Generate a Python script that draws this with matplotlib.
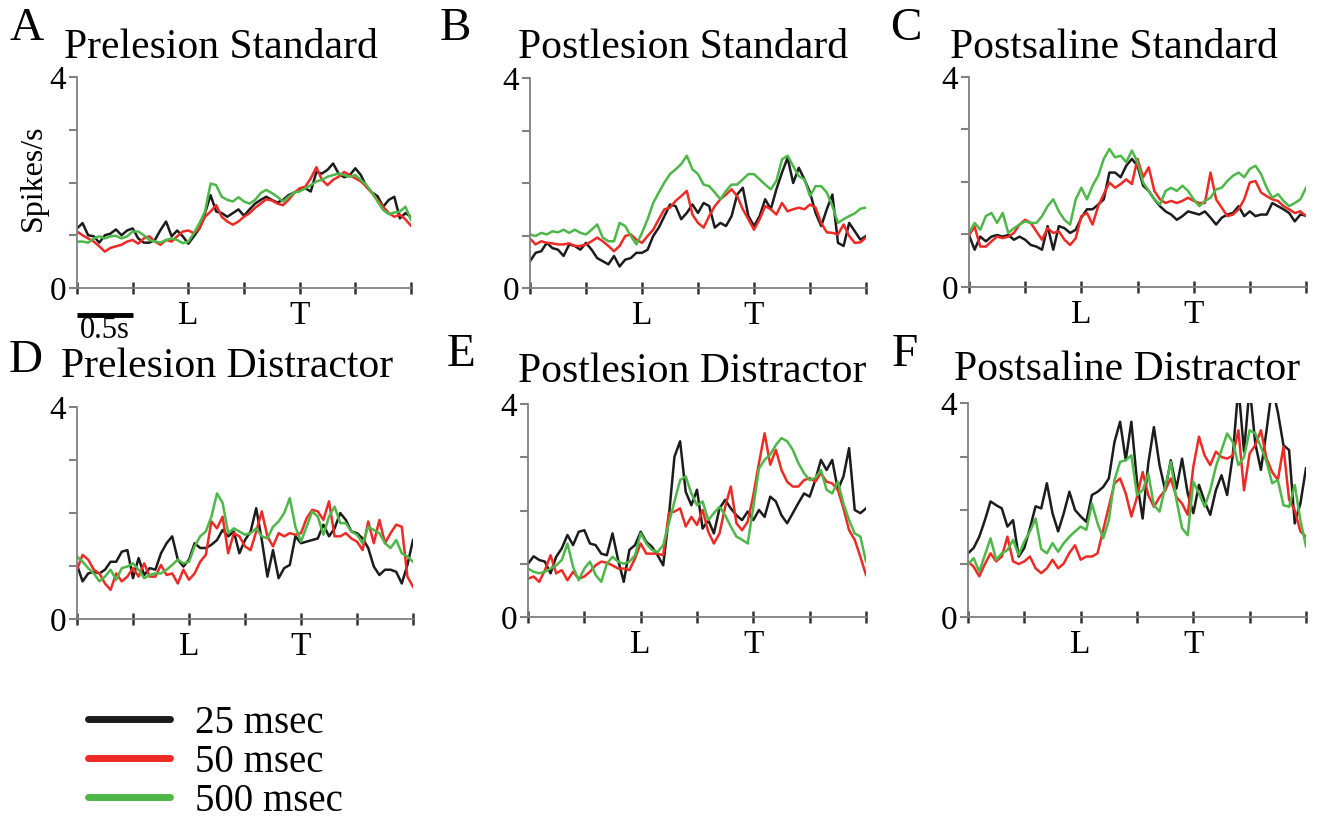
import matplotlib
matplotlib.use('Agg')
import matplotlib.pyplot as plt
import matplotlib.transforms as mtransforms
import numpy as np

plt.rcParams['font.family'] = ['Liberation Serif', 'DejaVu Serif']

W, H = 1317, 818

# firing rate (spikes/s) every 0.05 s, 0..3 s
# A: prelesion standard
pre_std_25 = [1.13, 1.23, 1.0, 0.98, 0.86, 1.0, 1.03, 1.11, 1.0, 1.09, 1.13, 0.94, 0.86, 0.86, 0.91, 1.1, 1.26, 0.98,
              1.09, 0.98, 0.84, 0.98, 1.13, 1.42, 1.76, 1.45, 1.42, 1.35, 1.42, 1.49, 1.37, 1.49, 1.6, 1.67, 1.73, 1.67,
              1.62, 1.67, 1.76, 1.81, 1.85, 1.89, 1.83, 2.2, 2.17, 2.24, 2.36, 2.17, 2.1, 2.14, 2.27, 2.14, 1.92, 1.81,
              1.74, 1.54, 1.67, 1.73, 1.32, 1.42, 1.35]
pre_std_50 = [1.07, 1.0, 0.94, 0.88, 0.79, 0.69, 0.76, 0.79, 0.82, 0.88, 0.91, 0.84, 0.94, 0.98, 0.88, 0.82, 0.91, 0.88,
              0.98, 1.07, 1.09, 1.04, 1.13, 1.35, 1.45, 1.57, 1.35, 1.26, 1.2, 1.26, 1.35, 1.42, 1.52, 1.6, 1.68, 1.66,
              1.6, 1.57, 1.67, 1.8, 1.89, 1.92, 2.08, 2.29, 2.05, 1.95, 2.05, 2.11, 2.2, 2.14, 2.08, 2.02, 1.92, 1.8,
              1.67, 1.54, 1.42, 1.35, 1.39, 1.3, 1.18]
pre_std_500 = [0.88, 0.88, 0.86, 0.94, 0.98, 0.94, 0.98, 0.99, 0.94, 0.98, 1.07, 1.07, 1.0, 0.91, 0.88, 0.86, 0.91, 0.94,
               0.91, 0.85, 0.88, 1.04, 1.23, 1.45, 1.98, 1.95, 1.73, 1.67, 1.64, 1.72, 1.64, 1.6, 1.67, 1.8, 1.86, 1.8,
               1.73, 1.64, 1.73, 1.81, 1.83, 1.89, 1.95, 2.02, 2.05, 2.11, 2.14, 2.17, 2.14, 2.11, 2.14, 2.05, 1.95,
               1.81, 1.64, 1.48, 1.4, 1.43, 1.45, 1.54, 1.29]
# B: postlesion standard
post_std_25 = [0.51, 0.67, 0.7, 0.86, 0.76, 0.73, 0.61, 0.83, 0.8, 0.73, 0.86, 0.73, 0.57, 0.51, 0.45, 0.61, 0.41, 0.54,
               0.57, 0.67, 0.67, 0.73, 0.99, 1.15, 1.37, 1.59, 1.56, 1.31, 1.43, 1.59, 1.43, 1.62, 1.56, 1.15, 1.24,
               1.18, 1.37, 1.78, 1.91, 1.37, 1.18, 1.37, 1.69, 1.5, 1.88, 2.2, 2.48, 2.0, 2.29, 2.07, 1.82, 1.43, 1.18,
               1.5, 1.78, 0.86, 0.8, 1.24, 1.08, 0.92, 0.99]
post_std_50 = [0.94, 0.83, 0.89, 0.86, 0.85, 0.83, 0.83, 0.85, 0.8, 0.8, 0.83, 0.89, 0.96, 0.89, 0.8, 0.7, 0.8, 0.99,
               1.02, 0.92, 0.86, 0.99, 1.11, 1.31, 1.5, 1.53, 1.66, 1.75, 1.85, 1.4, 1.24, 1.15, 1.37, 1.56, 1.69, 1.78,
               1.88, 1.75, 1.5, 1.31, 1.11, 1.31, 1.56, 1.5, 1.4, 1.62, 1.46, 1.5, 1.53, 1.5, 1.59, 1.53, 1.24, 1.06,
               1.05, 1.02, 1.21, 0.99, 0.86, 0.87, 0.96]
post_std_500 = [1.02, 0.99, 1.05, 1.02, 1.08, 1.06, 1.11, 1.05, 1.11, 1.05, 1.02, 1.11, 1.21, 0.96, 0.89, 0.89, 1.24,
                1.18, 0.99, 0.83, 1.05, 1.31, 1.62, 1.82, 2.01, 2.17, 2.26, 2.36, 2.52, 2.26, 2.17, 1.97, 1.94, 1.82,
                1.69, 1.85, 1.97, 1.97, 2.07, 2.17, 2.17, 2.07, 1.97, 1.88, 2.04, 2.45, 2.52, 2.32, 2.13, 2.07, 1.75,
                1.94, 1.94, 1.82, 1.56, 1.24, 1.31, 1.37, 1.42, 1.51, 1.53]
# C: postsaline standard
sal_std_25 = [0.99, 0.71, 0.96, 0.87, 0.96, 0.99, 0.96, 0.99, 0.9, 0.96, 0.9, 0.8, 0.77, 0.71, 1.16, 0.71, 1.16, 1.12,
              1.03, 1.09, 1.32, 1.48, 1.48, 1.57, 1.67, 2.18, 2.18, 2.09, 2.31, 2.44, 2.31, 1.93, 1.83, 1.67, 1.54,
              1.44, 1.38, 1.28, 1.35, 1.44, 1.41, 1.38, 1.44, 1.32, 1.19, 1.32, 1.38, 1.41, 1.54, 1.35, 1.44, 1.35,
              1.38, 1.38, 1.6, 1.54, 1.48, 1.41, 1.25, 1.38, 1.36]
sal_std_50 = [0.99, 1.15, 0.77, 0.77, 0.87, 0.96, 0.93, 0.96, 1.03, 1.19, 1.28, 1.22, 1.06, 0.9, 1.12, 1.03, 1.06, 0.9,
              0.8, 0.93, 1.35, 1.41, 1.19, 1.54, 1.77, 1.99, 1.89, 1.96, 2.05, 1.96, 2.44, 2.09, 2.28, 1.83, 1.67, 1.6,
              1.64, 1.6, 1.64, 1.7, 1.64, 1.6, 1.6, 2.18, 1.67, 1.51, 1.35, 1.38, 1.48, 1.67, 1.99, 2.02, 1.8, 1.73,
              1.67, 1.64, 1.54, 1.48, 1.41, 1.44, 1.35]
sal_std_500 = [1.03, 1.22, 1.09, 1.35, 1.41, 1.22, 1.41, 1.03, 1.12, 1.19, 1.25, 1.22, 1.22, 1.35, 1.54, 1.67, 1.44, 1.28,
               1.19, 1.67, 1.89, 1.67, 1.93, 2.12, 2.44, 2.63, 2.47, 2.5, 2.38, 2.6, 2.38, 1.99, 1.83, 1.67, 1.57, 1.83,
               1.89, 1.83, 1.93, 1.83, 1.67, 1.54, 1.64, 1.7, 1.86, 1.89, 2.02, 2.12, 2.18, 2.09, 2.25, 2.31, 2.15,
               1.89, 1.7, 1.77, 1.64, 1.54, 1.6, 1.67, 1.89]
# D: prelesion distractor
pre_dis_25 = [1.02, 0.71, 0.86, 0.89, 0.86, 0.93, 1.08, 1.08, 1.27, 1.3, 0.77, 1.15, 0.83, 0.96, 0.93, 1.24, 1.43, 1.56,
              1.12, 0.99, 1.12, 1.43, 1.34, 1.34, 1.4, 1.49, 1.68, 1.56, 1.65, 1.24, 1.49, 1.65, 2.09, 1.49, 0.8, 1.3,
              0.77, 0.96, 1.02, 1.56, 1.43, 1.46, 1.49, 1.52, 1.78, 1.56, 1.71, 2.0, 1.87, 1.65, 1.62, 1.52, 1.34,
              0.99, 0.83, 0.93, 0.93, 0.89, 0.67, 1.02, 1.49]
pre_dis_50 = [0.93, 1.21, 1.12, 0.93, 0.86, 0.67, 0.55, 0.86, 0.71, 0.8, 0.96, 0.8, 1.05, 0.8, 0.8, 1.02, 0.83, 0.86,
              0.67, 0.93, 0.74, 0.86, 1.08, 1.21, 1.84, 1.71, 1.93, 1.24, 1.62, 1.56, 1.37, 1.3, 1.65, 2.03, 1.56, 1.37,
              1.62, 1.56, 1.62, 1.59, 1.62, 1.9, 2.06, 2.03, 1.87, 2.22, 1.56, 1.56, 1.62, 1.52, 1.46, 1.3, 1.84, 1.43,
              1.87, 1.43, 1.62, 1.78, 1.74, 0.8, 0.61]
pre_dis_500 = [1.18, 1.08, 0.96, 0.86, 0.71, 0.8, 0.93, 0.74, 0.96, 0.99, 1.05, 0.93, 0.77, 0.83, 0.86, 0.86, 0.93, 1.02,
               1.12, 1.05, 1.08, 1.37, 1.56, 1.65, 1.93, 2.37, 2.19, 1.62, 1.71, 1.65, 1.59, 1.62, 1.71, 1.56, 1.52,
               1.74, 1.84, 2.0, 2.28, 1.74, 1.46, 1.74, 2.03, 1.93, 1.59, 1.93, 2.12, 1.81, 1.81, 1.65, 1.59, 1.43,
               1.74, 1.68, 1.62, 1.43, 1.34, 1.49, 1.24, 1.18, 1.08]
# E: postlesion distractor
post_dis_25 = [1.0, 1.14, 1.07, 1.04, 0.82, 1.13, 1.29, 1.54, 1.35, 1.6, 1.63, 1.38, 1.35, 1.19, 1.16, 1.57, 1.07, 0.66,
               1.26, 1.35, 1.6, 1.41, 1.32, 1.16, 0.97, 1.88, 3.01, 3.3, 2.35, 2.1, 2.39, 1.66, 1.82, 1.57, 2.04, 2.2,
               2.04, 1.91, 1.82, 1.98, 1.82, 2.01, 1.88, 2.26, 2.17, 1.91, 1.76, 1.95, 2.14, 2.32, 2.26, 2.57, 2.95,
               2.76, 2.95, 2.39, 2.64, 3.17, 2.01, 1.95, 2.04]
post_dis_50 = [0.72, 0.76, 0.66, 0.88, 1.16, 0.82, 0.88, 0.69, 0.85, 0.72, 0.76, 0.85, 0.97, 1.04, 1.02, 0.97, 0.91,
               0.91, 0.88, 1.1, 1.38, 1.19, 1.19, 1.19, 1.16, 1.95, 1.98, 2.04, 1.7, 1.88, 1.73, 2.01, 1.6, 1.38, 1.57,
               2.07, 2.45, 1.76, 1.63, 1.79, 2.29, 2.89, 3.45, 2.86, 3.14, 2.76, 2.54, 2.45, 2.45, 2.57, 2.61, 2.54,
               2.7, 2.54, 2.51, 2.39, 2.04, 1.63, 1.45, 1.13, 0.79]
post_dis_500 = [0.91, 0.85, 0.82, 0.85, 0.91, 0.97, 1.07, 1.38, 0.94, 0.69, 0.91, 1.04, 0.79, 0.66, 1.0, 1.13, 1.04, 1.0,
                1.04, 1.16, 1.57, 1.38, 1.26, 1.22, 1.35, 1.76, 2.17, 2.57, 2.64, 2.32, 2.1, 2.17, 1.82, 1.95, 2.07,
                1.91, 1.7, 1.51, 1.45, 1.38, 2.07, 2.79, 2.95, 3.05, 3.23, 3.36, 3.3, 3.14, 2.89, 2.7, 2.57, 2.61, 2.76,
                2.39, 2.32, 2.54, 2.13, 1.82, 1.57, 1.51, 1.04]
# F: postsaline distractor (values above 4 run off the top of the axis)
sal_dis_25 = [1.19, 1.29, 1.5, 1.81, 2.16, 2.09, 2.03, 1.69, 1.81, 1.13, 1.29, 1.66, 2.07, 2.03, 2.5, 1.94, 1.6, 1.94,
              2.34, 2.0, 1.88, 1.78, 2.28, 2.34, 2.43, 2.59, 3.27, 3.65, 2.93, 3.65, 2.53, 1.84, 2.87, 3.55, 2.84, 2.37,
              2.93, 2.4, 2.96, 2.31, 1.94, 2.47, 2.16, 1.91, 2.37, 2.65, 2.28, 3.02, 4.3, 3.09, 4.3, 3.24, 2.75, 3.49,
              4.3, 3.83, 3.21, 3.12, 1.75, 2.12, 2.78]
sal_dis_50 = [1.04, 0.94, 0.76, 0.99, 1.19, 1.04, 1.13, 1.5, 1.04, 0.99, 1.04, 1.13, 0.91, 0.82, 0.91, 1.07, 0.91, 1.0,
              1.2, 1.34, 1.07, 1.13, 1.13, 1.19, 1.63, 2.06, 2.5, 2.59, 2.31, 1.88, 2.24, 2.71, 2.28, 2.06, 2.24, 2.37,
              2.59, 2.24, 2.12, 1.91, 2.81, 3.37, 3.02, 2.84, 3.09, 2.99, 2.96, 3.02, 3.49, 2.37, 3.06, 3.21, 3.49,
              2.96, 2.71, 2.56, 3.18, 2.19, 2.0, 1.6, 1.5]
sal_dis_500 = [0.98, 1.1, 0.85, 1.16, 1.47, 1.07, 1.19, 1.25, 1.44, 1.16, 1.41, 1.6, 1.84, 1.27, 1.19, 1.38, 1.22, 1.38,
               1.5, 1.6, 1.69, 1.63, 2.12, 1.75, 1.47, 1.81, 2.56, 2.9, 2.93, 3.02, 2.28, 2.37, 2.68, 2.09, 1.97, 2.43,
               2.9, 2.19, 1.66, 1.53, 2.53, 2.31, 2.06, 2.37, 2.81, 3.12, 3.43, 3.27, 2.84, 2.99, 3.49, 3.43, 3.18, 2.9,
               2.5, 2.56, 2.09, 2.06, 2.47, 1.81, 1.32]

series_labels = ['25 msec', '50 msec', '500 msec']
series_colors = ['#1c1c1c', '#ee2a24', '#4db848']
x_tick_labels = ['', '', 'L', '', 'T', '', '']

# letter, title, data, axes box in pixels (left, top, right, bottom), title x, title y, letter y
panels = [
    ('A', 'Prelesion Standard', [pre_std_25, pre_std_50, pre_std_500], (77, 77, 411, 288), 221, 58, 40),
    ('B', 'Postlesion Standard', [post_std_25, post_std_50, post_std_500], (530, 78, 866, 288), 683, 58, 40),
    ('C', 'Postsaline Standard', [sal_std_25, sal_std_50, sal_std_500], (969, 77, 1306, 287), 1114, 58, 40),
    ('D', 'Prelesion Distractor', [pre_dis_25, pre_dis_50, pre_dis_500], (77, 407, 413, 619), 227, 377, 372),
    ('E', 'Postlesion Distractor', [post_dis_25, post_dis_50, post_dis_500], (528, 404, 866, 617), 692, 382, 366),
    ('F', 'Postsaline Distractor', [sal_dis_25, sal_dis_50, sal_dis_500], (968, 403, 1306, 617), 1127, 380, 366),
]
letter_x = {'A': 9, 'B': 440, 'C': 890, 'D': 9, 'E': 447, 'F': 892}

fig = plt.figure(figsize=(W / 100, H / 100), dpi=100)
axis_grey = '#808080'

first_lines = None
for letter, title, data, box, tx, ty, ly in panels:
    l, t, r, b = box
    ax = fig.add_axes([l / W, 1 - b / H, (r - l) / W, (b - t) / H])
    lines = []
    for vals, col in zip(data, series_colors):
        tt = np.linspace(0, 3, len(vals))
        ln, = ax.plot(tt, vals, color=col, linewidth=1.8)
        lines.append(ln)
    if first_lines is None:
        first_lines = lines
    ax.set_xlim(0, 3)
    ax.set_ylim(0, 4)
    for s in ['top', 'right']:
        ax.spines[s].set_visible(False)
    for s in ['left', 'bottom']:
        ax.spines[s].set_color(axis_grey)
        ax.spines[s].set_linewidth(1.3)
    ax.set_yticks([0, 1, 2, 3, 4])
    ax.set_yticklabels(['0', '', '', '', '4'], fontsize=24)
    ax.set_xticks(np.arange(0, 3.01, 0.5))
    ax.set_xticklabels(x_tick_labels, fontsize=24)
    ax.tick_params(axis='y', direction='out', length=6, width=1.5, color=axis_grey, pad=2)
    ax.tick_params(axis='x', direction='inout', length=8, width=1.8, color='#333333', pad=5)
    fig.text(tx / W, 1 - ty / H, title, fontsize=30, ha='center', va='baseline')
    fig.text(letter_x[letter] / W, 1 - ly / H, letter, fontsize=34, ha='left', va='baseline')

    if letter == 'A':
        # 0.5 s scale bar under the first panel
        trans = mtransforms.blended_transform_factory(ax.transData, ax.transAxes)
        ax.plot([0, 0.5], [-0.128, -0.128], color='black', linewidth=3.5, transform=trans, clip_on=False,
                solid_capstyle='butt')
        ax.text(0.25, -0.235, '0.5s', transform=trans, ha='center', va='baseline', fontsize=22)

fig.text(33 / W, 1 - 178 / H, 'Spikes/s', rotation=90, fontsize=23, ha='center', va='center')

leg = fig.legend(first_lines, series_labels, loc='upper left', bbox_to_anchor=(88 / W, 1 - 705 / H),
                 frameon=False, fontsize=28, handlelength=2.1, handletextpad=0.65, labelspacing=0.05,
                 borderpad=0, borderaxespad=0)
for hl in leg.get_lines():
    hl.set_linewidth(5)
    hl.set_solid_capstyle('round')

fig.savefig('out.png', dpi=100)
